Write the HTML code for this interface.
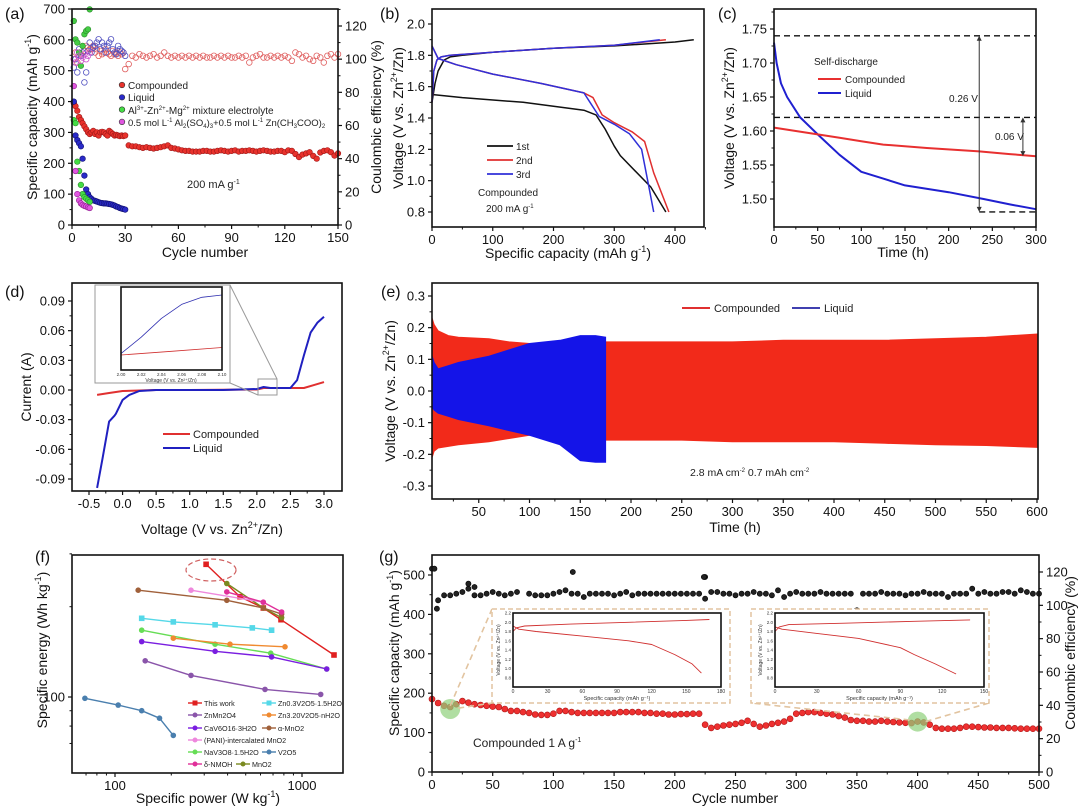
<!DOCTYPE html>
<html><head><meta charset="utf-8">
<style>
html,body{margin:0;padding:0;background:#fff;}
svg{display:block;font-family:"Liberation Sans",Arial,sans-serif;}
</style></head>
<body>
<svg id="fig" xmlns="http://www.w3.org/2000/svg" width="1080" height="807" viewBox="0 0 1080 807">
<rect x="0" y="0" width="1080" height="807" fill="#fff"/>
<g font-size="16" fill="#111">
<text x="5" y="19">(a)</text>
<text x="380" y="19">(b)</text>
<text x="718" y="19">(c)</text>
<text x="5" y="297">(d)</text>
<text x="381" y="297">(e)</text>
<text x="35" y="562">(f)</text>
<text x="379" y="562">(g)</text>
</g>
<g font-size="14" fill="#111" text-anchor="middle">
<text transform="translate(37,117) rotate(-90)">Specific capacity (mAh g<tspan font-size="9" dy="-6">-1</tspan><tspan dy="6">)</tspan></text>
<text transform="translate(381,117) rotate(-90)">Coulombic efficiency (%)</text>
<text x="205" y="257">Cycle number</text>
<text transform="translate(403,118) rotate(-90)">Voltage (V vs. Zn<tspan font-size="9" dy="-6">2+</tspan><tspan dy="6">/Zn)</tspan></text>
<text x="568" y="258">Specific capacity (mAh g<tspan font-size="9" dy="-6">-1</tspan><tspan dy="6">)</tspan></text>
<text transform="translate(734,118) rotate(-90)">Voltage (V vs. Zn<tspan font-size="9" dy="-6">2+</tspan><tspan dy="6">/Zn)</tspan></text>
<text x="903" y="257">Time (h)</text>
<text transform="translate(31,387) rotate(-90)">Current (A)</text>
<text x="212" y="534">Voltage (V vs. Zn<tspan font-size="9" dy="-6">2+</tspan><tspan dy="6">/Zn)</tspan></text>
<text transform="translate(395,391) rotate(-90)">Voltage (V vs. Zn<tspan font-size="9" dy="-6">2+</tspan><tspan dy="6">/Zn)</tspan></text>
<text x="735" y="532">Time (h)</text>
<text transform="translate(47,650) rotate(-90)">Specific energy (Wh kg<tspan font-size="9" dy="-6">-1</tspan><tspan dy="6">)</tspan></text>
<text x="208" y="803">Specific power (W kg<tspan font-size="9" dy="-6">-1</tspan><tspan dy="6">)</tspan></text>
<text transform="translate(399,653) rotate(-90)">Specific capacity (mAh g<tspan font-size="9" dy="-6">-1</tspan><tspan dy="6">)</tspan></text>
<text transform="translate(1075,653) rotate(-90)">Coulombic efficiency (%)</text>
<text x="735" y="803">Cycle number</text>
</g>
<g font-size="10" fill="#222">
<text x="128" y="89">Compounded</text>
<text x="128" y="101">Liquid</text>
<text x="128" y="114">Al<tspan font-size="6" dy="-4">3+</tspan><tspan dy="4">-Zn</tspan><tspan font-size="6" dy="-4">2+</tspan><tspan dy="4">-Mg</tspan><tspan font-size="6" dy="-4">2+</tspan><tspan dy="4"> mixture electrolyte</tspan></text>
<text x="128" y="126" font-size="9.5">0.5 mol L<tspan font-size="6" dy="-4">-1</tspan><tspan dy="4"> Al</tspan><tspan font-size="6" dy="2">2</tspan><tspan dy="-2">(SO</tspan><tspan font-size="6" dy="2">4</tspan><tspan dy="-2">)</tspan><tspan font-size="6" dy="2">3</tspan><tspan dy="-2">+0.5 mol L</tspan><tspan font-size="6" dy="-4">-1</tspan><tspan dy="4"> Zn(CH</tspan><tspan font-size="6" dy="2">3</tspan><tspan dy="-2">COO)</tspan><tspan font-size="6" dy="2">2</tspan></text>
<text x="187" y="188" font-size="11">200 mA g<tspan font-size="7" dy="-4">-1</tspan></text>
<text x="516" y="150">1st</text>
<text x="516" y="164">2nd</text>
<text x="516" y="178">3rd</text>
<text x="478" y="196">Compounded</text>
<text x="486" y="212">200 mA g<tspan font-size="6" dy="-4">-1</tspan></text>
<text x="814" y="65">Self-discharge</text>
<text x="845" y="83">Compounded</text>
<text x="845" y="97">Liquid</text>
<text x="949" y="102">0.26 V</text>
<text x="995" y="140">0.06 V</text>
<text x="193" y="438" font-size="11">Compounded</text>
<text x="193" y="452" font-size="11">Liquid</text>
<text x="714" y="312" font-size="11">Compounded</text>
<text x="824" y="312" font-size="11">Liquid</text>
<text x="690" y="476" font-size="10.5">2.8 mA cm<tspan font-size="6" dy="-4">-2</tspan><tspan dy="4">   0.7 mAh cm</tspan><tspan font-size="6" dy="-4">-2</tspan></text>
<text x="473" y="747" font-size="12">Compounded      1 A g<tspan font-size="7" dy="-5">-1</tspan></text>
</g>
</svg>
<script>
// ---------- data: panel (a) ----------
const aCompCap = [395,385,370,350,340,330,320,310,300,295,300,305,295,300,290,300,302,300,295,290,305,300,295,290,292,290,288,290,288,290,258,255,255,252,250,252,250,248,250,252,255,258,250,248,245,242,240,240,238,238,238,240,240,238,238,240,242,240,238,240,242,238,240,240,242,240,238,240,242,240,238,238,240,240,236,242,240,230,220,228,232,236,224,215,235,240,242,236,225,232];
const aCompCE = [100,104,98,102,103,104,105,108,107,106,106,108,104,106,102,105,103,104,106,104,103,102,105,103,104,102,104,103,104,94,97,102,101,103,102,101,102,103,101,102,104,102,101,102,101,102,101,102,101,102,101,102,101,101,102,101,102,101,102,101,101,102,101,102,98,101,102,103,101,101,102,101,102,101,102,101,99,104,103,101,102,100,99,102,101,98,102,103,101,103];
const aLiqCap = [400,290,275,265,255,215,160,115,100,90,85,80,78,76,74,72,71,70,70,69,68,67,65,63,60,58,55,53,52,50];
const aLiqCE = [95,100,92,106,102,104,86,92,105,110,104,107,108,110,112,106,110,108,104,108,110,112,106,104,103,108,106,105,104,102];
const aMixCap = [340,330,205,175,130,100,90,85,80,75];
const aMixCE = [123,112,110,104,96,108,115,117,118,130];
const aSulCap = [450,175,100,80,70,65,62,60,57,55];
const aSulCE = [100,98,104,102,99,101,103,100,102,104];
const aXTicks = [0,30,60,90,120,150];
const aYTicks = [0,100,200,300,400,500,600,700];
const aY2Ticks = [0,20,40,60,80,100,120];
// ---------- data: panel (b) ----------
const bCharge1X = [0,5,10,20,30,50,100,200,300,400,431];
const bCharge1Y = [1.50,1.62,1.70,1.77,1.79,1.80,1.82,1.845,1.86,1.885,1.90];
const bCharge2X = [0,3,8,15,30,100,200,300,385];
const bCharge2Y = [1.50,1.70,1.77,1.79,1.80,1.82,1.845,1.865,1.90];
const bCharge3X = [0,3,8,15,30,100,200,300,375];
const bCharge3Y = [1.50,1.70,1.77,1.79,1.80,1.82,1.845,1.865,1.90];
const bDis1X = [0,50,150,250,270,285,300,310,335,360,385];
const bDis1Y = [1.55,1.53,1.50,1.45,1.42,1.33,1.22,1.16,1.06,0.96,0.80];
const bDis2X = [0,10,40,100,180,250,265,280,300,330,350,365,390];
const bDis2Y = [1.86,1.78,1.74,1.68,1.62,1.56,1.53,1.42,1.37,1.31,1.25,1.05,0.80];
const bDis3X = [0,10,40,100,180,250,260,275,300,325,345,355,365];
const bDis3Y = [1.86,1.78,1.74,1.68,1.62,1.56,1.50,1.41,1.36,1.30,1.20,1.00,0.80];
const bXTicks = [0,100,200,300,400];
const bYTicks = [0.8,1.0,1.2,1.4,1.6,1.8,2.0];
// ---------- data: panel (c) ----------
const cLiqT = [0,1,3,8,15,30,50,75,100,125,150,200,240,270,300];
const cLiqV = [1.73,1.72,1.70,1.67,1.65,1.62,1.595,1.565,1.54,1.53,1.52,1.51,1.50,1.492,1.485];
const cCompT = [0,25,50,75,100,125,175,235,270,300];
const cCompV = [1.605,1.60,1.595,1.59,1.585,1.58,1.575,1.57,1.566,1.563];
const cXTicks = [0,50,100,150,200,250,300];
const cYTicks = [1.50,1.55,1.60,1.65,1.70,1.75];
// ---------- data: panel (d) ----------
const dCompV = [-0.38,-0.2,-0.1,0,0.5,1.0,2.0,2.1,2.5,2.7,2.85,3.0];
const dCompI = [-0.005,-0.003,-0.002,-0.001,0,0,0.0005,0.002,0.002,0.002,0.005,0.008];
const dLiqV = [-0.38,-0.3,-0.2,-0.12,-0.1,0,0.1,0.25,0.5,1.5,2.0,2.1,2.2,2.5,2.6,2.7,2.8,2.9,3.0];
const dLiqI = [-0.099,-0.07,-0.032,-0.026,-0.024,-0.01,-0.005,-0.001,0,0,0.001,0.003,0.002,0.002,0.01,0.035,0.058,0.068,0.074];
const dXTicks = [-0.5,0,0.5,1.0,1.5,2.0,2.5,3.0];
const dYTicks = [-0.09,-0.06,-0.03,0,0.03,0.06,0.09];
// ---------- data: panel (e) ----------
const eCompT = [4,6,10,20,30,60,80,100,130,175,250,300,350,400,450,500,550,600];
const eCompUp = [0.23,0.21,0.19,0.175,0.17,0.165,0.155,0.15,0.15,0.155,0.155,0.155,0.16,0.16,0.16,0.165,0.17,0.18];
const eCompLo = [-0.21,-0.19,-0.18,-0.175,-0.17,-0.16,-0.15,-0.14,-0.14,-0.155,-0.155,-0.16,-0.16,-0.16,-0.165,-0.17,-0.172,-0.178];
const eLiqT = [4,6,10,20,30,60,80,100,130,150,165,175];
const eLiqUp = [0.11,0.09,0.07,0.08,0.09,0.11,0.13,0.15,0.16,0.175,0.175,0.17];
const eLiqLo = [-0.05,-0.06,-0.07,-0.08,-0.09,-0.11,-0.125,-0.14,-0.17,-0.22,-0.225,-0.225];
const eXTicks = [50,100,150,200,250,300,350,400,450,500,550,600];
const eYTicks = [-0.3,-0.2,-0.1,0,0.1,0.2,0.3];
// ---------- data: panel (f) ----------
const fNames = ['This work','MnO2','α-MnO2','PANI-MnO2','δ-NMOH','Zn0.3V2O5','NaV3O8','Zn3.2V2O5','CaV6O16','ZnMn2O4','V2O5'];
const fColors = ['#e02020','#7a8a20','#a0603a','#ee88dd','#e0309a','#55d8e8','#66dd55','#f08a30','#7a1ee0','#8a55aa','#4a7fae'];
const fPower = [[307,466,621,772,1483],[396,621,778],[133,396,621,778],[255,621],[396,621,778],[139,205,343,542,688],[139,343,680,1355],[205,412,811],[139,343,688,1355],[145,255,634,1259],[69,104,139,173,205]];
const fEnergy = [[277,216,198,181,138],[239,198,184],[227,210,198,189],[227,207],[224,207,192],[183,178,174,170,167],[167,150,140,124],[157,150,147],[153,142,136,124],[132,118,106,102],[99,94,90,85,74.5]];
const fXTicks = [100,1000];
const fYTicks = [100];
// ---------- data: panel (g) ----------
const gCap1 = [185,175,168,165,172,180,176,172,170,168,166,165,160,155,155,152,150,146,145,145,148,155,155,152,150,150,150,150,150,150,150,152,152,152,152,150,150,148,148,146,146,147,147,148,148];
const gCap2 = [120,112,115,118,120,122,125,130,122,115,118,122,125,128,135,148,150,152,152,150,148,146,142,138,132,130,130,128,128,130,128,127,126,125,124,128,126,120,112,110,110,110,112,115,115,114,113,113,112,112,112,111,110,110,110,110];
const gCE = [122,103,106,106,107,108,110,106,106,107,108,107,106,107,108,95,107,106,106,106,107,108,109,107,107,105,107,107,107,107,106,107,108,106,107,107,107,107,107,107,107,107,107,107,107,117,108,108,107,107,106,107,107,108,107,107,106,109,105,107,108,107,107,107,108,107,107,107,107,107,97,107,107,107,108,107,107,107,106,107,107,108,107,107,107,105,107,107,107,110,107,108,107,107,108,108,107,109,108,107,107];
const gCEOut = [[2,122],[4,98],[30,113],[35,111],[84,95],[116,120],[224,117],[225,104]];
const gXTicks = [0,50,100,150,200,250,300,350,400,450,500];
const gYTicks = [0,100,200,300,400,500];
const gY2Ticks = [0,20,40,60,80,100,120];
const gIn1ChX = [0,3,10,50,100,150,170];
const gIn1ChY = [1.8,1.88,1.92,1.96,2.0,2.04,2.06];
const gIn1DisX = [0,5,20,60,100,120,140,155,163];
const gIn1DisY = [1.92,1.85,1.80,1.70,1.60,1.52,1.30,1.10,0.90];
const gIn2ChX = [0,3,10,50,100,140];
const gIn2ChY = [1.8,1.9,1.95,1.98,2.02,2.05];
const gIn2DisX = [0,5,30,60,90,100,115,130];
const gIn2DisY = [1.9,1.85,1.76,1.65,1.45,1.30,1.10,0.88];

// ---------- helpers ----------
const NS = 'http://www.w3.org/2000/svg';
const svg = document.getElementById('fig');
function el(tag, attrs, parent){ const e=document.createElementNS(NS,tag); for(const k in attrs) e.setAttribute(k,attrs[k]); (parent||svg).appendChild(e); return e; }
function lin(d0,d1,p0,p1){ return v => p0+(v-d0)*(p1-p0)/(d1-d0); }
function logs(d0,d1,p0,p1){ return v => p0+(Math.log10(v)-Math.log10(d0))*(p1-p0)/(Math.log10(d1)-Math.log10(d0)); }
function grp(name){ const g=el('g',{});   return g; }
function frame(g,name,x0,y0,x1,y1){
  const r=el('rect',{x:x0,y:y0,width:x1-x0,height:y1-y0,fill:'none',stroke:'#111','stroke-width':1.6},g);
  
  
}
function fmt(v,d){ return d===undefined? String(v) : v.toFixed(d); }
function xAxis(g,name,ticks,sx,yb,dec,fs,minor){
  ticks.forEach(v=>{
    const x=sx(v);
    const t=el('line',{x1:x,x2:x,y1:yb,y2:yb+4,stroke:'#111','stroke-width':1.2},g);
    
    
    const l=el('text',{x:x,y:yb+17,'text-anchor':'middle','font-size':fs||13,fill:'#111'},g);
    
    
    l.textContent=fmt(v,dec);
  });
  (minor||[]).forEach(v=>{
    const x=sx(v);
    const t=el('line',{x1:x,x2:x,y1:yb,y2:yb+2.5,stroke:'#111','stroke-width':1},g);
    
    
  });
}
function yAxis(g,name,ticks,sy,xa,dec,side,fs,minor){
  const dir = side==='right'?1:-1;
  ticks.forEach(v=>{
    const y=sy(v);
    const t=el('line',{x1:xa,x2:xa+4*dir,y1:y,y2:y,stroke:'#111','stroke-width':1.2},g);
    
    
    const l=el('text',{x:xa+7*dir,y:y+4.5,'text-anchor':side==='right'?'start':'end','font-size':fs||13,fill:'#111'},g);
    
    
    l.textContent=fmt(v,dec);
  });
  (minor||[]).forEach(v=>{
    const y=sy(v);
    const t=el('line',{x1:xa,x2:xa+2.5*dir,y1:y,y2:y,stroke:'#111','stroke-width':1},g);
    
    
  });
}
function poly(g,name,xs,ys,sx,sy,color,w,dash){
  const pts=xs.map((x,i)=>sx(x).toFixed(1)+','+sy(ys[i]).toFixed(1)).join(' ');
  const p=el('polyline',{points:pts,fill:'none',stroke:color,'stroke-width':w||1.5,'stroke-linejoin':'round'},g);
  if(dash) p.setAttribute('stroke-dasharray',dash);
  
  
  return p;
}
function dot(g,name,x,y,r,fill,stroke,open){
  const c=el('circle',{cx:x.toFixed(1),cy:y.toFixed(1),r:r,fill:open?'none':fill,stroke:stroke,'stroke-width':open?0.8:0.6},g);
  
  
}
function seg(g,name,x1,y1,x2,y2,color,w,dash){
  const l=el('line',{x1:x1,y1:y1,x2:x2,y2:y2,stroke:color,'stroke-width':w||1},g);
  if(dash) l.setAttribute('stroke-dasharray',dash);
  
  
}
function range(a,b,s){ const r=[]; for(let v=a; v<=b+1e-9; v+=s) r.push(+v.toFixed(4)); return r; }

// ---------- panel (a) ----------
(function(){
  const g=grp('panel-a');
  const sx=lin(0,150,72,338), sy=lin(0,700,225,9), sy2=lin(0,120,225,26);
  const cyc = i => i<30 ? i+1 : 30+2*(i-29);
  aCompCE.forEach((v,i)=>dot(g,'a-compounded-ce-point',sx(cyc(i)),sy2(v),2.8,'none','#e06060',true));
  aLiqCE.forEach((v,i)=>dot(g,'a-liquid-ce-point',sx(i+1),sy2(v),2.8,'none','#5050c0',true));
  aMixCE.forEach((v,i)=>dot(g,'a-mixture-ce-point',sx(i+1),sy2(v),2.8,'#44cc44','#2a8a2a',false));
  aSulCE.forEach((v,i)=>dot(g,'a-sulfate-ce-point',sx(i+1),sy2(v),2.8,'none','#cc55cc',true));
  aCompCap.forEach((v,i)=>dot(g,'a-compounded-capacity-point',sx(cyc(i)),sy(v),2.8,'#e8322c','#a01818',false));
  aLiqCap.forEach((v,i)=>dot(g,'a-liquid-capacity-point',sx(i+1),sy(v),2.8,'#2a2ac8','#101070',false));
  aMixCap.forEach((v,i)=>dot(g,'a-mixture-capacity-point',sx(i+1),sy(v),2.8,'#44dd44','#2a8a2a',false));
  aSulCap.forEach((v,i)=>dot(g,'a-sulfate-capacity-point',sx(i+1),sy(v),2.8,'#e055e0','#902090',false));
  ['#e8322c','#2a2ac8','#44dd44','#e055e0'].forEach((c,i)=>dot(g,'a-legend-marker',122,85+i*12.3,2.8,c,'#333',false));
  frame(g,'a-plot-frame',72,9,338,225);
  xAxis(g,'a-x-axis',aXTicks,sx,225,undefined,13,range(15,135,30));
  yAxis(g,'a-y-axis',aYTicks,sy,72,undefined,'left',13,range(50,650,100));
  yAxis(g,'a-y2-axis',aY2Ticks,sy2,338,undefined,'right',13,range(10,130,20));
})();

// ---------- panel (b) ----------
(function(){
  const g=grp('panel-b');
  const sx=lin(0,400,432,675), sy=lin(0.8,2.0,212,24);
  poly(g,'b-1st-charge',bCharge1X,bCharge1Y,sx,sy,'#111',1.5);
  poly(g,'b-1st-discharge',bDis1X,bDis1Y,sx,sy,'#111',1.5);
  poly(g,'b-2nd-charge',bCharge2X,bCharge2Y,sx,sy,'#e03030',1.5);
  poly(g,'b-2nd-discharge',bDis2X,bDis2Y,sx,sy,'#e03030',1.5);
  poly(g,'b-3rd-charge',bCharge3X,bCharge3Y,sx,sy,'#3030d8',1.5);
  poly(g,'b-3rd-discharge',bDis3X,bDis3Y,sx,sy,'#3030d8',1.5);
  ['#111','#e03030','#3030d8'].forEach((c,i)=>seg(g,'b-legend-line',487,146+i*14,513,146+i*14,c,1.8));
  frame(g,'b-plot-frame',432,9,704,227);
  xAxis(g,'b-x-axis',bXTicks,sx,227,undefined,13,range(50,450,100));
  yAxis(g,'b-y-axis',bYTicks,sy,432,1,'left',13,range(0.9,1.9,0.2));
})();

// ---------- panel (c) ----------
(function(){
  const g=grp('panel-c');
  const sx=lin(0,300,774,1036), sy=lin(1.50,1.75,199,29);
  seg(g,'c-dashed-upper',774,sy(1.74),1036,sy(1.74),'#111',1.4,'6,4');
  seg(g,'c-dashed-middle',774,sy(1.62),1036,sy(1.62),'#111',1.4,'6,4');
  seg(g,'c-dashed-lower',sx(235),sy(1.481),1036,sy(1.481),'#111',1.4,'6,4');
  poly(g,'c-liquid-line',cLiqT,cLiqV,sx,sy,'#2020d0',2);
  poly(g,'c-compounded-line',cCompT,cCompV,sx,sy,'#e83030',2);
  seg(g,'c-arrow-026',sx(235),sy(1.74)+3,sx(235),sy(1.481)-3,'#333',1);
  seg(g,'c-arrow-006',sx(285),sy(1.62)+3,sx(285),sy(1.563)-3,'#333',1);
  [[sx(235),sy(1.74),1],[sx(235),sy(1.481),-1],[sx(285),sy(1.62),1],[sx(285),sy(1.563),-1]].forEach(a=>{
    const p=el('path',{d:`M${a[0]-2.5},${a[1]+5*a[2]} L${a[0]},${a[1]} L${a[0]+2.5},${a[1]+5*a[2]} Z`,fill:'#333'},g);
    
    
  });
  seg(g,'c-legend-compounded-line',818,79,841,79,'#e83030',2);
  seg(g,'c-legend-liquid-line',818,93,841,93,'#2020d0',2);
  frame(g,'c-plot-frame',774,9,1036,227);
  xAxis(g,'c-x-axis',cXTicks,sx,227,undefined,13,range(25,275,50));
  yAxis(g,'c-y-axis',cYTicks,sy,774,2,'left',13,range(1.525,1.775,0.05));
})();

// ---------- panel (d) ----------
(function(){
  const g=grp('panel-d');
  const sx=lin(-0.5,3.0,89,324), sy=lin(0,0.09,390,301);
  poly(g,'d-compounded-line',dCompV,dCompI,sx,sy,'#e03030',2);
  poly(g,'d-liquid-line',dLiqV,dLiqI,sx,sy,'#2020c0',2);
  const zr=el('rect',{x:258,y:379,width:19,height:16,fill:'none',stroke:'#999','stroke-width':1},g);
  
  
  seg(g,'d-zoom-connector',230,285,277,379,'#999',1);
  seg(g,'d-zoom-connector',230,383,258,395,'#999',1);
  const ib=el('rect',{x:95,y:285,width:135,height:98,fill:'#fff',stroke:'#999','stroke-width':1},g);
  
  
  const ix=lin(2.0,2.1,121,222), iy=lin(0.0008,0.0024,370,295);
  const insetLiqX=[2.0,2.02,2.04,2.06,2.08,2.10], insetLiqY=[0.00115,0.0015,0.0019,0.0022,0.00235,0.0024];
  const insetCompX=[2.0,2.05,2.10], insetCompY=[0.00112,0.0012,0.00128];
  poly(g,'d-inset-liquid',insetLiqX,insetLiqY,ix,iy,'#3030b0',0.8);
  poly(g,'d-inset-compounded',insetCompX,insetCompY,ix,iy,'#d03030',0.8);
  frame(g,'d-inset-frame',121,287,222,370);
  [2.00,2.02,2.04,2.06,2.08,2.10].forEach(v=>{
    const t=el('text',{x:ix(v),y:376,'font-size':4.5,'text-anchor':'middle',fill:'#333'},g);
    
    
    t.textContent=v.toFixed(2);
  });
  const it=el('text',{x:171,y:382,'font-size':5,'text-anchor':'middle',fill:'#333'},g);
  
  
  it.textContent='Voltage (V vs. Zn²⁺/Zn)';
  seg(g,'d-legend-compounded-line',163,434,190,434,'#e03030',2);
  seg(g,'d-legend-liquid-line',163,448,190,448,'#2020c0',2);
  frame(g,'d-plot-frame',72,283,342,491);
  xAxis(g,'d-x-axis',dXTicks,sx,491,1,13,range(-0.25,2.75,0.5));
  yAxis(g,'d-y-axis',dYTicks,sy,72,2,'left',13,range(-0.075,0.075,0.03));
})();

// ---------- panel (e) ----------
(function(){
  const g=grp('panel-e');
  const sx=lin(0,600,428,1037), sy=lin(0,0.3,391,296);
  function band(name,ts,up,lo,color){
    const pts=ts.map((t,i)=>sx(t).toFixed(1)+','+sy(up[i]).toFixed(1)).concat(ts.slice().reverse().map((t,j)=>sx(t).toFixed(1)+','+sy(lo[ts.length-1-j]).toFixed(1))).join(' ');
    const p=el('polygon',{points:pts,fill:color,stroke:color,'stroke-width':1},g);
    
    
  }
  band('e-compounded-band',eCompT,eCompUp,eCompLo,'#f22a1a');
  band('e-liquid-band',eLiqT,eLiqUp,eLiqLo,'#1414e8');
  seg(g,'e-legend-compounded-line',682,308,710,308,'#e03030',2);
  seg(g,'e-legend-liquid-line',792,308,820,308,'#4040b0',2);
  frame(g,'e-plot-frame',432,283,1038,499);
  xAxis(g,'e-x-axis',eXTicks,sx,499,undefined,13,range(25,575,50));
  yAxis(g,'e-y-axis',eYTicks,sy,432,1,'left',13,range(-0.25,0.25,0.1));
})();

// ---------- panel (f) ----------
(function(){
  const g=grp('panel-f');
  const sx=logs(100,1000,115,302), sy=logs(100,1000,697,397);
  fPower.forEach((ps,k)=>{
    poly(g,'f-series-line',ps,fEnergy[k],sx,sy,fColors[k],1.4);
    ps.forEach((p,i)=>{
      const c=el('rect',{x:(sx(p)-2.8).toFixed(1),y:(sy(fEnergy[k][i])-2.8).toFixed(1),width:5.6,height:5.6,rx:k===0||k===5?0:2.8,fill:fColors[k]},g);
      
      
    });
  });
  const e=el('ellipse',{cx:211,cy:570,rx:25,ry:11,fill:'none',stroke:'#d06060','stroke-width':1.2,'stroke-dasharray':'5,3'},g);
  
  
  const legItems=[['This work',0,188,703],['Zn0.3V2O5·1.5H2O',5,262,703],['ZnMn2O4',9,188,715],['Zn3.20V2O5·nH2O',7,262,715],['CaV6O16·3H2O',8,188,728],['α-MnO2',2,262,728],['(PANI)-intercalated MnO2',3,188,740],['NaV3O8·1.5H2O',6,188,752],['V2O5',10,262,752],['δ-NMOH',4,188,764],['MnO2',1,236,764]];
  legItems.forEach(it=>{
    seg(g,'f-legend-line',it[2],it[3],it[2]+14,it[3],fColors[it[1]],1.4);
    const m=el('rect',{x:it[2]+4.5,y:it[3]-2.5,width:5,height:5,rx:it[1]===0||it[1]===5?0:2.5,fill:fColors[it[1]]},g);
    
    
    const t=el('text',{x:it[2]+16,y:it[3]+3,'font-size':7.2,fill:'#222'},g);
    
    
    t.textContent=it[0];
  });
  frame(g,'f-plot-frame',72,555,343,773);
  xAxis(g,'f-x-axis',fXTicks,sx,773,undefined,13,[70,80,90,200,300,400,500,600,700,800,900]);
  yAxis(g,'f-y-axis',fYTicks,sy,72,undefined,'left',13,[70,80,90,200,300]);
})();

// ---------- panel (g) ----------
(function(){
  const g=grp('panel-g');
  const sx=lin(0,500,432,1039), sy=lin(0,500,772,575), sy2=lin(0,120,772,572);
  gCE.forEach((v,i)=>dot(g,'g-ce-point',sx(i*5),sy2(v),2.6,'#222','#000',false));
  gCEOut.forEach(p=>dot(g,'g-ce-outlier',sx(p[0]),sy2(p[1]),2.6,'#222','#000',false));
  gCap1.forEach((v,i)=>dot(g,'g-capacity-point',sx(i*5),sy(v),3,'#ee3030','#b01818',false));
  gCap2.forEach((v,i)=>dot(g,'g-capacity-point',sx(225+i*5),sy(v),3,'#ee3030','#b01818',false));
  [[15,160],[400,128]].forEach(p=>{
    const c=el('circle',{cx:sx(p[0]),cy:sy(p[1]),r:10,fill:'#8fd07a','fill-opacity':0.7},g);
    
    
  });
  seg(g,'g-inset1-connector',sx(15),sy(168),492,609,'#e2c4a0',1.6,'6,4');
  seg(g,'g-inset1-connector',sx(15)+8,sy(162),492,703,'#e2c4a0',1.6,'6,4');
  seg(g,'g-inset2-connector',sx(400)-8,sy(132),751,703,'#e2c4a0',1.6,'6,4');
  seg(g,'g-inset2-connector',sx(400)+8,sy(128),989,703,'#e2c4a0',1.6,'6,4');
  function inset(name,ox,ix0,ix1,xmax,xt,chX,chY,dX,dY){
    const b=el('rect',{x:ox,y:609,width:238,height:94,fill:'#fff',stroke:'#e2c4a0','stroke-width':1.5,'stroke-dasharray':'5,3'},g);
    
    
    const isx=lin(0,xmax,ix0,ix1), isy=lin(0.6,2.2,687,613);
    poly(g,name+'-charge',chX,chY,isx,isy,'#d03030',0.9);
    poly(g,name+'-discharge',dX,dY,isx,isy,'#d03030',0.9);
    frame(g,name+'-frame',ix0,613,ix1,687);
    xt.forEach(v=>{
      const t=el('text',{x:isx(v),y:693,'font-size':5,'text-anchor':'middle',fill:'#333'},g);
      
      
      t.textContent=v;
    });
    [0.8,1.0,1.2,1.4,1.6,1.8,2.0,2.2].forEach(v=>{
      const t=el('text',{x:ix0-2,y:isy(v)+1.5,'font-size':4.5,'text-anchor':'end',fill:'#333'},g);
      
      
      t.textContent=v.toFixed(1);
    });
    const tt=el('text',{x:(ix0+ix1)/2,y:700,'font-size':5.5,'text-anchor':'middle',fill:'#333'},g);
    
    
    tt.textContent='Specific capacity (mAh g⁻¹)';
    const ty=el('text',{transform:`translate(${ix0-13},650) rotate(-90)`,'font-size':5,'text-anchor':'middle',fill:'#333'},g);
    
    
    ty.textContent='Voltage (V vs. Zn²⁺/Zn)';
  }
  inset('g-inset-1',492,513,721,180,[0,30,60,90,120,150,180],gIn1ChX,gIn1ChY,gIn1DisX,gIn1DisY);
  inset('g-inset-2',751,775,984,150,[0,30,60,90,120,150],gIn2ChX,gIn2ChY,gIn2DisX,gIn2DisY);
  frame(g,'g-plot-frame',432,555,1039,772);
  xAxis(g,'g-x-axis',gXTicks,sx,772,undefined,13,range(25,475,50));
  yAxis(g,'g-y-axis',gYTicks,sy,432,undefined,'left',13,range(50,450,100));
  yAxis(g,'g-y2-axis',gY2Ticks,sy2,1039,undefined,'right',13,range(10,110,20));
})();
</script>
</body></html>
